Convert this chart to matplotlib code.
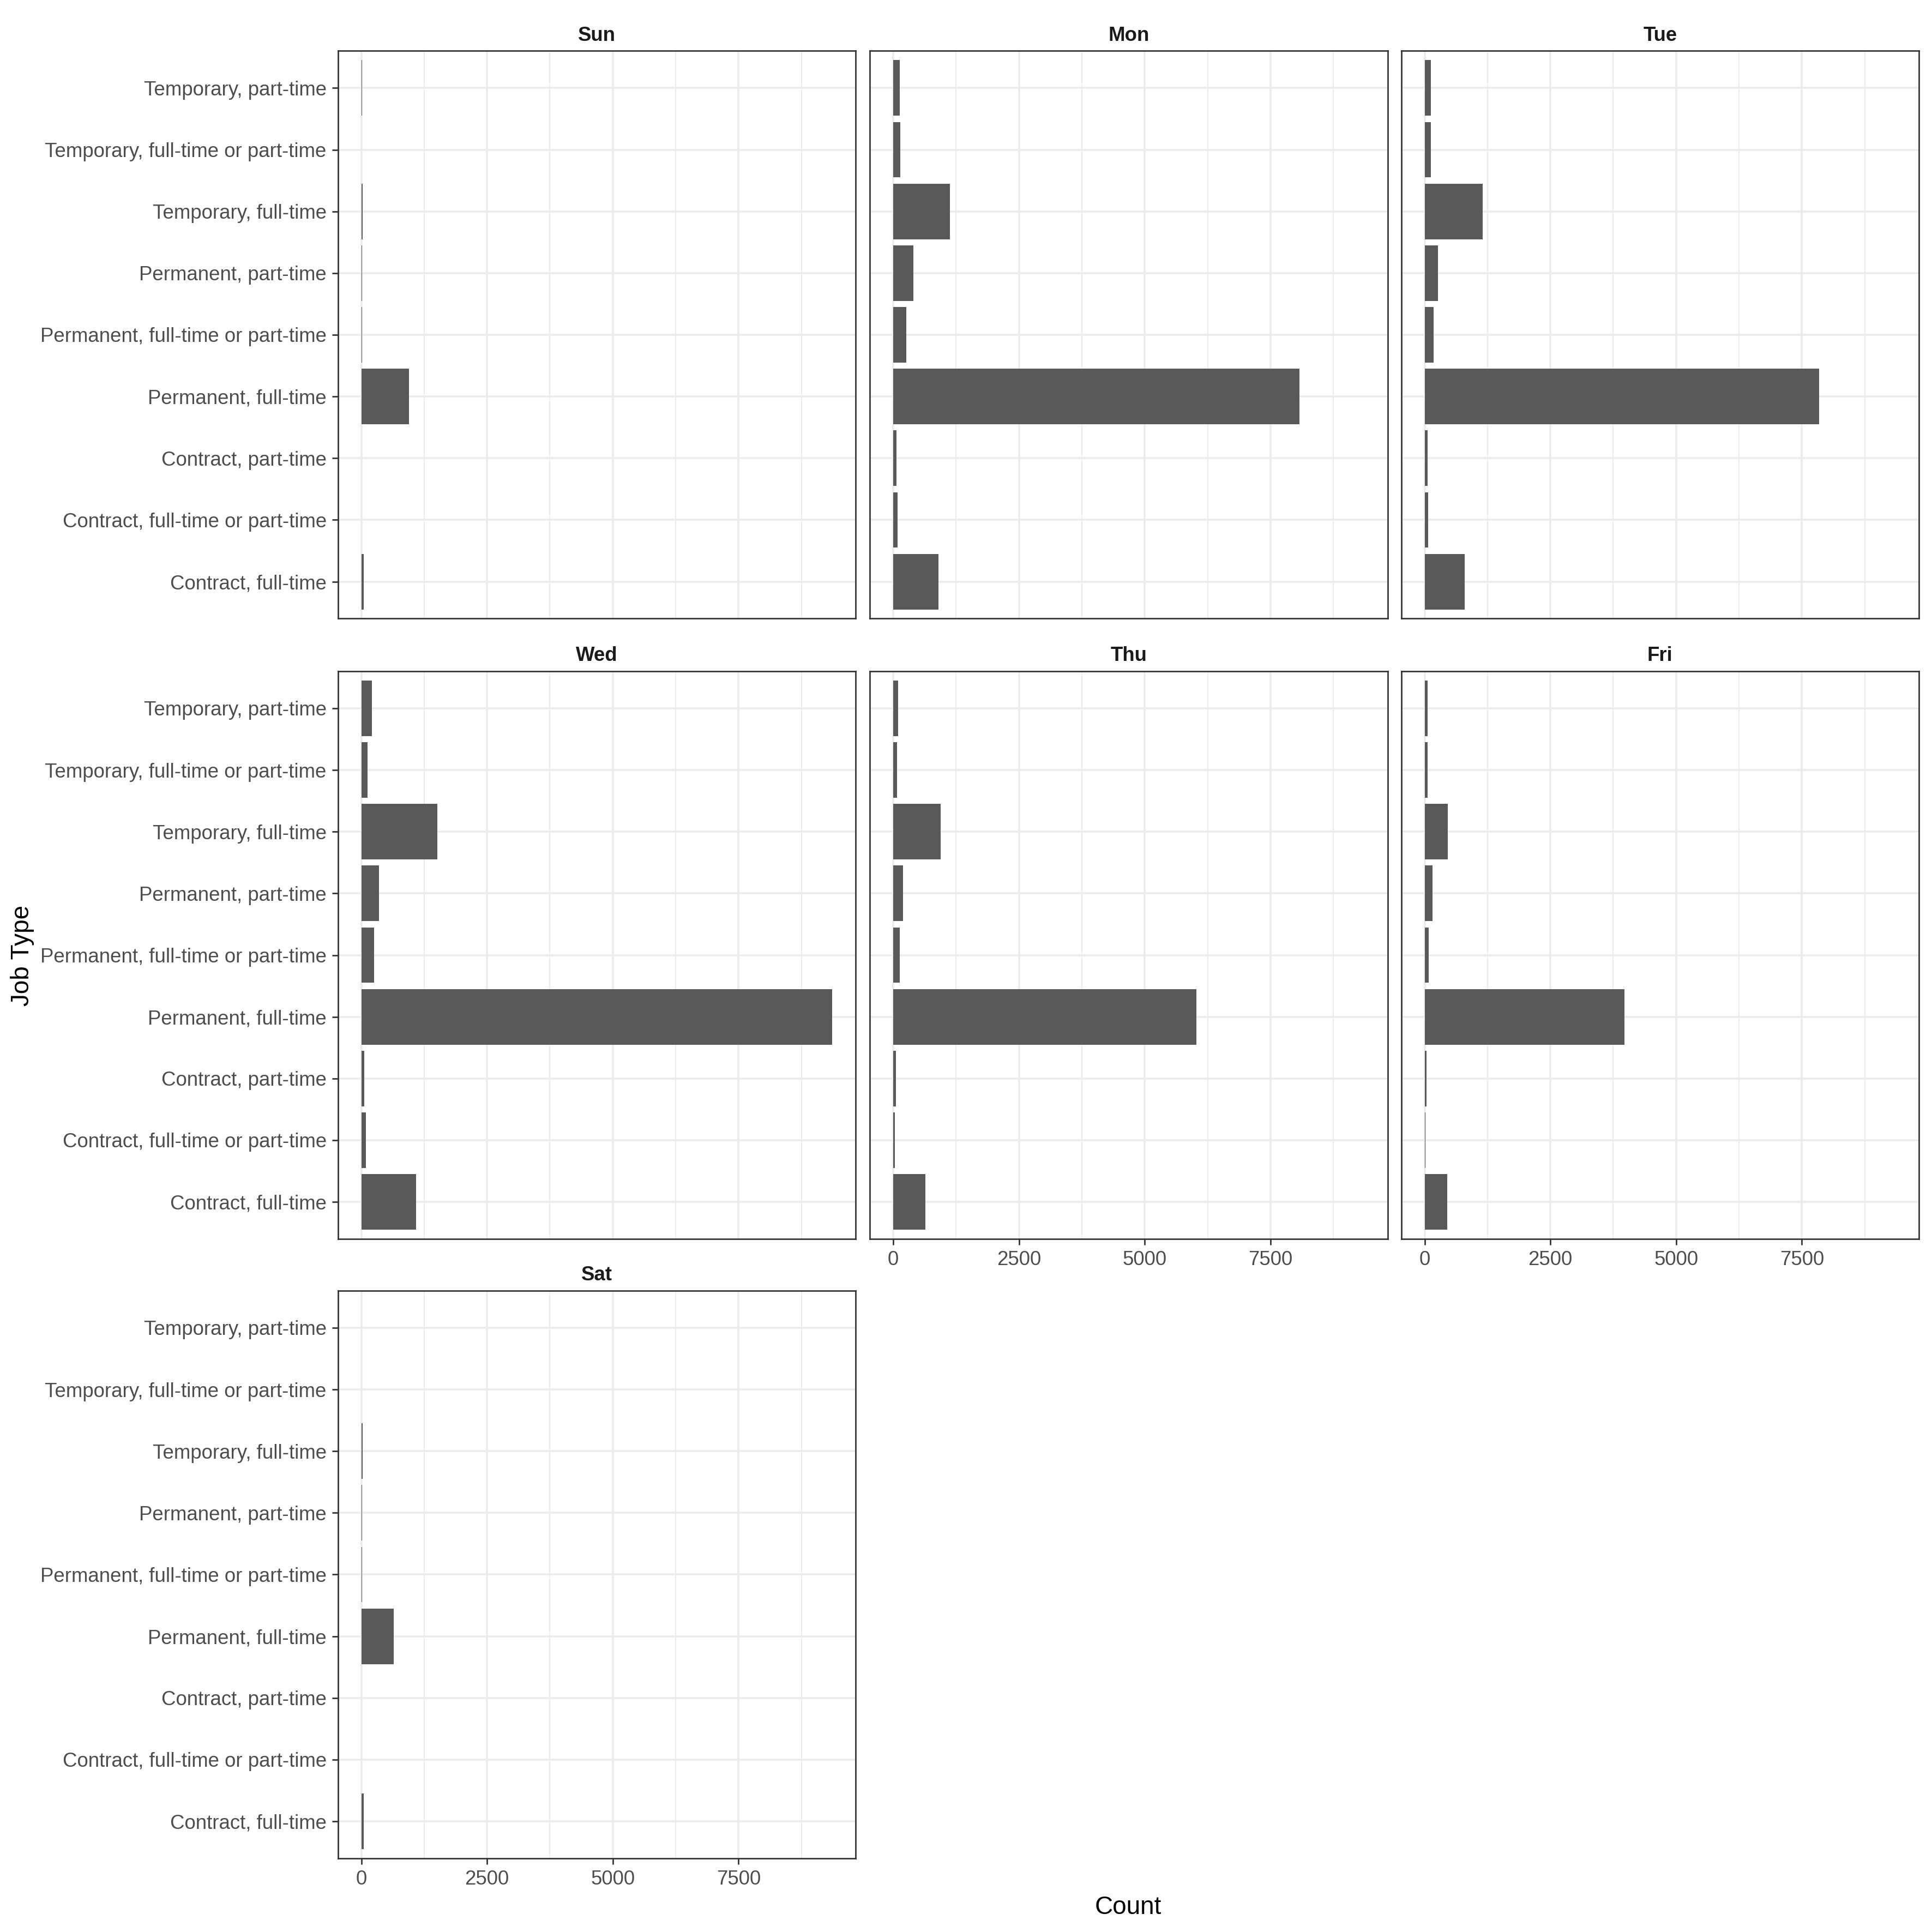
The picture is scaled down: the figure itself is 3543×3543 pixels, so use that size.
from matplotlib import pyplot as plt

plt.rcParams['font.family'] = ['Liberation Sans', 'DejaVu Sans']

job_types = ["Contract, full-time", "Contract, full-time or part-time", "Contract, part-time",
             "Permanent, full-time", "Permanent, full-time or part-time", "Permanent, part-time",
             "Temporary, full-time", "Temporary, full-time or part-time", "Temporary, part-time"]

days = ["Sun", "Mon", "Tue", "Wed", "Thu", "Fri", "Sat"]

# counts per day, same order as job_types (bottom to top)
sun = [48, 0, 0, 950, 12, 12, 26, 0, 12]
mon = [896, 86, 65, 8075, 260, 400, 1123, 140, 130]
tue = [800, 65, 54, 7840, 173, 259, 1156, 119, 119]
wed = [1084, 90, 58, 9360, 252, 349, 1516, 122, 209]
thu = [637, 32, 54, 6030, 130, 194, 940, 76, 97]
fri = [443, 11, 32, 3970, 76, 151, 464, 54, 54]
sat = [48, 0, 0, 640, 12, 12, 26, 0, 0]

counts = [sun, mon, tue, wed, thu, fri, sat]

x_ticks = [0, 2500, 5000, 7500]
x_minor = [1250, 3750, 6250, 8750]

W = 3543.0
H = 3543.0
fig = plt.figure(figsize=(W / 300, H / 300), dpi=300)

col_left = [619.5, 1595, 2569.5]
row_top = [93.5, 1231, 2367]
pw = 949.5
ph = 1041

xmax = max(max(c) for c in counts)
ypos = list(range(1, len(job_types) + 1))

for i in range(len(days)):
    r = i // 3
    c = i % 3
    ax = fig.add_axes([col_left[c] / W, 1 - (row_top[r] + ph) / H, pw / W, ph / H])
    ax.set_axisbelow(True)
    ax.barh(ypos, counts[i], height=0.9, color='#595959', zorder=3)
    ax.set_xlim(-0.05 * xmax, 1.05 * xmax)
    ax.set_ylim(0.4, len(job_types) + 0.6)
    ax.set_xticks(x_ticks)
    ax.set_xticks(x_minor, minor=True)
    ax.set_yticks(ypos)
    ax.grid(which='major', color='#EBEBEB', linewidth=0.85)
    ax.grid(which='minor', axis='x', color='#EBEBEB', linewidth=0.45)
    for s in ax.spines.values():
        s.set_color('#333333')
        s.set_linewidth(0.65)
    ax.tick_params(which='minor', length=0)
    ax.tick_params(which='major', length=2.75, width=0.65, color='#333333',
                   labelsize=8.8, labelcolor='#4D4D4D', pad=2.2)
    if c == 0:
        ax.set_yticklabels(job_types)
    else:
        ax.tick_params(axis='y', length=0, labelleft=False)
    # bottom panel of each column gets the x axis
    if i + 3 >= len(days):
        ax.set_xticklabels([str(t) for t in x_ticks])
    else:
        ax.tick_params(axis='x', length=0, labelbottom=False)
    ax.set_title(days[i], fontsize=8.8, fontweight='bold', color='#1A1A1A', pad=4.5)

fig.text(2069 / W, 1 - 3498 / H, 'Count', ha='center', va='center', fontsize=11)
fig.text(41 / W, 1 - 1752 / H, 'Job Type', ha='center', va='center', fontsize=11, rotation=90)

plt.savefig('out.png', dpi=300)
